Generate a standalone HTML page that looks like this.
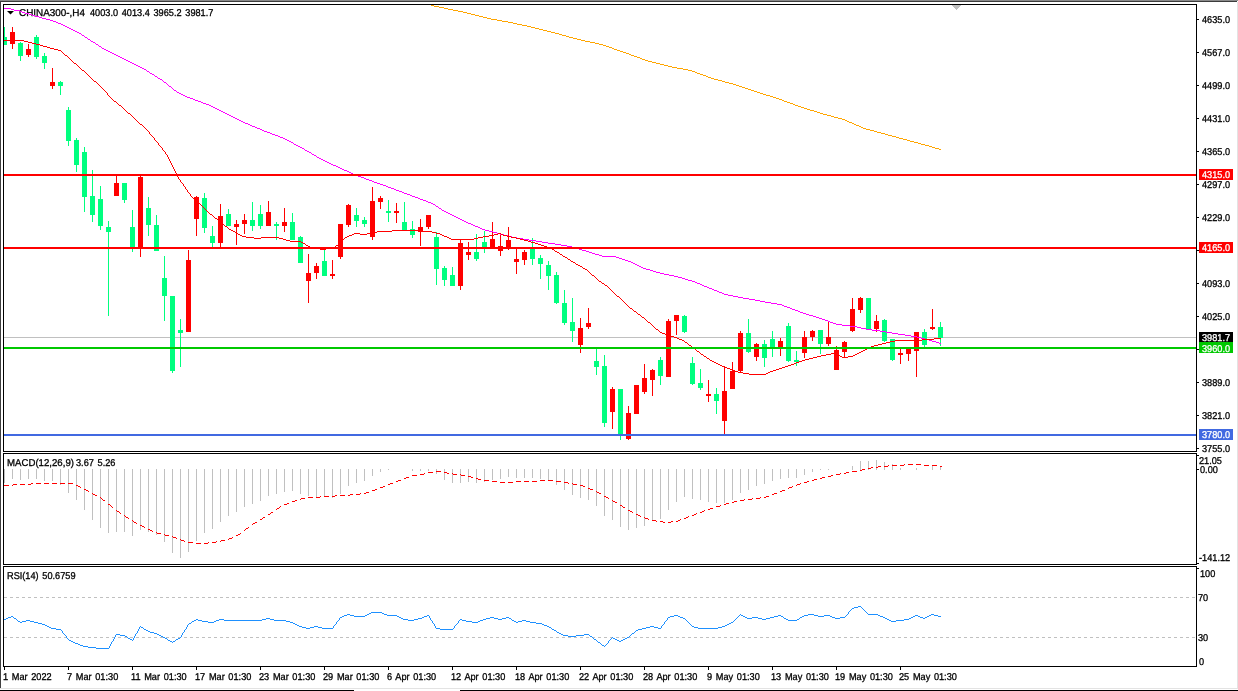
<!DOCTYPE html>
<html><head><meta charset="utf-8">
<style>
html,body{margin:0;padding:0;background:#fff;}
body{width:1238px;height:691px;overflow:hidden;position:relative;}
svg{position:absolute;left:0;top:0;display:block;will-change:transform;} path{shape-rendering:crispEdges;}
text{text-rendering:geometricPrecision;font-family:"Liberation Sans",sans-serif;font-size:9.9px;fill:#000;stroke:#000;stroke-width:0.3px;word-spacing:1.2px;}
</style></head><body>
<svg width="1238" height="691" viewBox="0 0 1238 691">
<rect x="0" y="0" width="1238" height="691" fill="#FFFFFF"/>
<g shape-rendering="crispEdges">
<rect x="0" y="0" width="1238" height="1" fill="#8A8A8A"/>
<rect x="0" y="1" width="1237" height="1" fill="#3C3C3C"/>
<rect x="0" y="1" width="1" height="687" fill="#404040"/>
<rect x="1237" y="2" width="1" height="687" fill="#E3E3E3"/>
<rect x="0" y="688" width="1238" height="1" fill="#E3E3E3"/>
<rect x="0" y="690" width="354" height="1" fill="#000"/>
<rect x="460" y="690" width="778" height="1" fill="#000"/>
<!-- frames -->
<rect x="3.5" y="4.5" width="1193" height="447" fill="none" stroke="#000" stroke-width="1"/>
<rect x="3.5" y="453.5" width="1193" height="111" fill="none" stroke="#000" stroke-width="1"/>
<rect x="3.5" y="566.5" width="1193" height="100" fill="none" stroke="#000" stroke-width="1"/>
</g>
<g shape-rendering="crispEdges">
<polygon points="951.5,5 961.5,5 956.5,10.5" fill="#C0C0C0"/>
</g>
<svg x="4" y="5" width="1192" height="446" viewBox="4 5 1192 446" overflow="hidden">
<g shape-rendering="crispEdges">
<rect x="4" y="337" width="1192" height="1" fill="#C0C0C0"/>
<rect x="4" y="27" width="1" height="18" fill="#00FF7F"/><rect x="2" y="37" width="5" height="8" fill="#00FF7F"/><rect x="12" y="27" width="1" height="22" fill="#FF0000"/><rect x="10" y="32" width="5" height="12" fill="#FF0000"/><rect x="20" y="42" width="1" height="19" fill="#00FF7F"/><rect x="18" y="43" width="5" height="13" fill="#00FF7F"/><rect x="28" y="44" width="1" height="13" fill="#FF0000"/><rect x="26" y="49" width="5" height="6" fill="#FF0000"/><rect x="36" y="35" width="1" height="24" fill="#00FF7F"/><rect x="34" y="37" width="5" height="20" fill="#00FF7F"/><rect x="44" y="53" width="1" height="16" fill="#00FF7F"/><rect x="42" y="56" width="5" height="7" fill="#00FF7F"/><rect x="52" y="68" width="1" height="21" fill="#FF0000"/><rect x="50" y="82" width="5" height="4" fill="#FF0000"/><rect x="60" y="81" width="1" height="14" fill="#00FF7F"/><rect x="58" y="82" width="5" height="4" fill="#00FF7F"/><rect x="68" y="107" width="1" height="39" fill="#00FF7F"/><rect x="66" y="110" width="5" height="31" fill="#00FF7F"/><rect x="76" y="138" width="1" height="34" fill="#00FF7F"/><rect x="74" y="140" width="5" height="25" fill="#00FF7F"/><rect x="84" y="147" width="1" height="65" fill="#00FF7F"/><rect x="82" y="152" width="5" height="45" fill="#00FF7F"/><rect x="92" y="170" width="1" height="52" fill="#00FF7F"/><rect x="90" y="196" width="5" height="19" fill="#00FF7F"/><rect x="100" y="186" width="1" height="44" fill="#00FF7F"/><rect x="98" y="199" width="5" height="27" fill="#00FF7F"/><rect x="108" y="221" width="1" height="95" fill="#00FF7F"/><rect x="106" y="227" width="5" height="5" fill="#00FF7F"/><rect x="116" y="175" width="1" height="21" fill="#FF0000"/><rect x="114" y="183" width="5" height="13" fill="#FF0000"/><rect x="124" y="183" width="1" height="20" fill="#00FF7F"/><rect x="122" y="183" width="5" height="17" fill="#00FF7F"/><rect x="132" y="210" width="1" height="42" fill="#00FF7F"/><rect x="130" y="227" width="5" height="20" fill="#00FF7F"/><rect x="140" y="175" width="1" height="82" fill="#FF0000"/><rect x="138" y="177" width="5" height="70" fill="#FF0000"/><rect x="148" y="197" width="1" height="39" fill="#00FF7F"/><rect x="146" y="208" width="5" height="17" fill="#00FF7F"/><rect x="156" y="215" width="1" height="36" fill="#00FF7F"/><rect x="154" y="225" width="5" height="26" fill="#00FF7F"/><rect x="164" y="256" width="1" height="65" fill="#00FF7F"/><rect x="162" y="278" width="5" height="18" fill="#00FF7F"/><rect x="172" y="296" width="1" height="77" fill="#00FF7F"/><rect x="170" y="296" width="5" height="75" fill="#00FF7F"/><rect x="180" y="319" width="1" height="48" fill="#00FF7F"/><rect x="178" y="330" width="5" height="3" fill="#00FF7F"/><rect x="188" y="250" width="1" height="82" fill="#FF0000"/><rect x="186" y="260" width="5" height="72" fill="#FF0000"/><rect x="196" y="196" width="1" height="40" fill="#FF0000"/><rect x="194" y="197" width="5" height="22" fill="#FF0000"/><rect x="204" y="193" width="1" height="40" fill="#00FF7F"/><rect x="202" y="198" width="5" height="30" fill="#00FF7F"/><rect x="212" y="226" width="1" height="21" fill="#00FF7F"/><rect x="210" y="236" width="5" height="7" fill="#00FF7F"/><rect x="220" y="204" width="1" height="43" fill="#FF0000"/><rect x="218" y="216" width="5" height="27" fill="#FF0000"/><rect x="228" y="209" width="1" height="17" fill="#00FF7F"/><rect x="226" y="214" width="5" height="12" fill="#00FF7F"/><rect x="236" y="220" width="1" height="25" fill="#FF0000"/><rect x="234" y="224" width="5" height="3" fill="#FF0000"/><rect x="244" y="214" width="1" height="20" fill="#FF0000"/><rect x="242" y="220" width="5" height="4" fill="#FF0000"/><rect x="252" y="202" width="1" height="29" fill="#00FF7F"/><rect x="250" y="220" width="5" height="6" fill="#00FF7F"/><rect x="260" y="205" width="1" height="24" fill="#00FF7F"/><rect x="258" y="214" width="5" height="12" fill="#00FF7F"/><rect x="268" y="201" width="1" height="25" fill="#FF0000"/><rect x="266" y="212" width="5" height="14" fill="#FF0000"/><rect x="276" y="222" width="1" height="18" fill="#00FF7F"/><rect x="274" y="224" width="5" height="2" fill="#00FF7F"/><rect x="284" y="208" width="1" height="24" fill="#FF0000"/><rect x="282" y="222" width="5" height="4" fill="#FF0000"/><rect x="292" y="213" width="1" height="27" fill="#00FF7F"/><rect x="290" y="222" width="5" height="18" fill="#00FF7F"/><rect x="300" y="236" width="1" height="27" fill="#00FF7F"/><rect x="298" y="237" width="5" height="26" fill="#00FF7F"/><rect x="308" y="254" width="1" height="49" fill="#FF0000"/><rect x="306" y="273" width="5" height="8" fill="#FF0000"/><rect x="316" y="263" width="1" height="16" fill="#FF0000"/><rect x="314" y="266" width="5" height="7" fill="#FF0000"/><rect x="324" y="250" width="1" height="26" fill="#00FF7F"/><rect x="322" y="261" width="5" height="15" fill="#00FF7F"/><rect x="332" y="260" width="1" height="19" fill="#FF0000"/><rect x="330" y="274" width="5" height="2" fill="#FF0000"/><rect x="340" y="224" width="1" height="35" fill="#FF0000"/><rect x="338" y="224" width="5" height="33" fill="#FF0000"/><rect x="348" y="204" width="1" height="23" fill="#FF0000"/><rect x="346" y="205" width="5" height="20" fill="#FF0000"/><rect x="356" y="208" width="1" height="19" fill="#00FF7F"/><rect x="354" y="215" width="5" height="6" fill="#00FF7F"/><rect x="364" y="217" width="1" height="10" fill="#00FF7F"/><rect x="362" y="220" width="5" height="4" fill="#00FF7F"/><rect x="372" y="187" width="1" height="53" fill="#FF0000"/><rect x="370" y="201" width="5" height="36" fill="#FF0000"/><rect x="380" y="196" width="1" height="13" fill="#FF0000"/><rect x="378" y="198" width="5" height="4" fill="#FF0000"/><rect x="388" y="200" width="1" height="22" fill="#00FF7F"/><rect x="386" y="211" width="5" height="2" fill="#00FF7F"/><rect x="396" y="203" width="1" height="20" fill="#FF0000"/><rect x="394" y="211" width="5" height="2" fill="#FF0000"/><rect x="404" y="202" width="1" height="28" fill="#00FF7F"/><rect x="402" y="222" width="5" height="8" fill="#00FF7F"/><rect x="412" y="221" width="1" height="17" fill="#00FF7F"/><rect x="410" y="229" width="5" height="6" fill="#00FF7F"/><rect x="420" y="219" width="1" height="27" fill="#FF0000"/><rect x="418" y="227" width="5" height="4" fill="#FF0000"/><rect x="428" y="215" width="1" height="14" fill="#FF0000"/><rect x="426" y="215" width="5" height="12" fill="#FF0000"/><rect x="436" y="232" width="1" height="53" fill="#00FF7F"/><rect x="434" y="237" width="5" height="32" fill="#00FF7F"/><rect x="444" y="266" width="1" height="20" fill="#00FF7F"/><rect x="442" y="268" width="5" height="12" fill="#00FF7F"/><rect x="452" y="267" width="1" height="19" fill="#00FF7F"/><rect x="450" y="275" width="5" height="11" fill="#00FF7F"/><rect x="460" y="240" width="1" height="50" fill="#FF0000"/><rect x="458" y="243" width="5" height="43" fill="#FF0000"/><rect x="468" y="242" width="1" height="18" fill="#FF0000"/><rect x="466" y="252" width="5" height="3" fill="#FF0000"/><rect x="476" y="234" width="1" height="27" fill="#00FF7F"/><rect x="474" y="252" width="5" height="7" fill="#00FF7F"/><rect x="484" y="231" width="1" height="22" fill="#00FF7F"/><rect x="482" y="242" width="5" height="5" fill="#00FF7F"/><rect x="492" y="222" width="1" height="25" fill="#FF0000"/><rect x="490" y="239" width="5" height="8" fill="#FF0000"/><rect x="500" y="235" width="1" height="21" fill="#FF0000"/><rect x="498" y="246" width="5" height="5" fill="#FF0000"/><rect x="508" y="227" width="1" height="23" fill="#FF0000"/><rect x="506" y="240" width="5" height="9" fill="#FF0000"/><rect x="516" y="249" width="1" height="25" fill="#FF0000"/><rect x="514" y="259" width="5" height="3" fill="#FF0000"/><rect x="524" y="250" width="1" height="15" fill="#FF0000"/><rect x="522" y="252" width="5" height="8" fill="#FF0000"/><rect x="532" y="238" width="1" height="27" fill="#00FF7F"/><rect x="530" y="249" width="5" height="10" fill="#00FF7F"/><rect x="540" y="255" width="1" height="24" fill="#00FF7F"/><rect x="538" y="258" width="5" height="6" fill="#00FF7F"/><rect x="548" y="261" width="1" height="29" fill="#00FF7F"/><rect x="546" y="265" width="5" height="11" fill="#00FF7F"/><rect x="556" y="272" width="1" height="32" fill="#00FF7F"/><rect x="554" y="275" width="5" height="28" fill="#00FF7F"/><rect x="564" y="290" width="1" height="35" fill="#00FF7F"/><rect x="562" y="303" width="5" height="20" fill="#00FF7F"/><rect x="572" y="298" width="1" height="44" fill="#00FF7F"/><rect x="570" y="322" width="5" height="9" fill="#00FF7F"/><rect x="580" y="318" width="1" height="35" fill="#FF0000"/><rect x="578" y="328" width="5" height="17" fill="#FF0000"/><rect x="588" y="308" width="1" height="21" fill="#FF0000"/><rect x="586" y="323" width="5" height="4" fill="#FF0000"/><rect x="596" y="349" width="1" height="26" fill="#00FF7F"/><rect x="594" y="361" width="5" height="6" fill="#00FF7F"/><rect x="604" y="355" width="1" height="72" fill="#00FF7F"/><rect x="602" y="366" width="5" height="57" fill="#00FF7F"/><rect x="612" y="387" width="1" height="42" fill="#FF0000"/><rect x="610" y="389" width="5" height="23" fill="#FF0000"/><rect x="620" y="389" width="1" height="51" fill="#00FF7F"/><rect x="618" y="389" width="5" height="45" fill="#00FF7F"/><rect x="628" y="406" width="1" height="34" fill="#FF0000"/><rect x="626" y="413" width="5" height="26" fill="#FF0000"/><rect x="636" y="385" width="1" height="29" fill="#FF0000"/><rect x="634" y="385" width="5" height="29" fill="#FF0000"/><rect x="644" y="364" width="1" height="30" fill="#FF0000"/><rect x="642" y="378" width="5" height="14" fill="#FF0000"/><rect x="652" y="369" width="1" height="27" fill="#FF0000"/><rect x="650" y="370" width="5" height="10" fill="#FF0000"/><rect x="660" y="357" width="1" height="28" fill="#00FF7F"/><rect x="658" y="360" width="5" height="16" fill="#00FF7F"/><rect x="668" y="319" width="1" height="58" fill="#FF0000"/><rect x="666" y="321" width="5" height="56" fill="#FF0000"/><rect x="676" y="315" width="1" height="20" fill="#FF0000"/><rect x="674" y="315" width="5" height="6" fill="#FF0000"/><rect x="684" y="315" width="1" height="18" fill="#00FF7F"/><rect x="682" y="316" width="5" height="16" fill="#00FF7F"/><rect x="692" y="357" width="1" height="28" fill="#00FF7F"/><rect x="690" y="363" width="5" height="21" fill="#00FF7F"/><rect x="700" y="369" width="1" height="21" fill="#00FF7F"/><rect x="698" y="383" width="5" height="5" fill="#00FF7F"/><rect x="708" y="380" width="1" height="22" fill="#FF0000"/><rect x="706" y="394" width="5" height="2" fill="#FF0000"/><rect x="716" y="388" width="1" height="26" fill="#00FF7F"/><rect x="714" y="394" width="5" height="7" fill="#00FF7F"/><rect x="724" y="366" width="1" height="68" fill="#FF0000"/><rect x="722" y="391" width="5" height="30" fill="#FF0000"/><rect x="732" y="362" width="1" height="27" fill="#FF0000"/><rect x="730" y="371" width="5" height="18" fill="#FF0000"/><rect x="740" y="331" width="1" height="41" fill="#FF0000"/><rect x="738" y="333" width="5" height="38" fill="#FF0000"/><rect x="748" y="319" width="1" height="34" fill="#00FF7F"/><rect x="746" y="333" width="5" height="19" fill="#00FF7F"/><rect x="756" y="343" width="1" height="18" fill="#FF0000"/><rect x="754" y="344" width="5" height="13" fill="#FF0000"/><rect x="764" y="340" width="1" height="27" fill="#00FF7F"/><rect x="762" y="344" width="5" height="14" fill="#00FF7F"/><rect x="772" y="331" width="1" height="26" fill="#00FF7F"/><rect x="770" y="339" width="5" height="8" fill="#00FF7F"/><rect x="780" y="338" width="1" height="18" fill="#FF0000"/><rect x="778" y="341" width="5" height="6" fill="#FF0000"/><rect x="788" y="323" width="1" height="39" fill="#00FF7F"/><rect x="786" y="326" width="5" height="35" fill="#00FF7F"/><rect x="796" y="351" width="1" height="15" fill="#00FF7F"/><rect x="794" y="360" width="5" height="2" fill="#00FF7F"/><rect x="804" y="331" width="1" height="27" fill="#FF0000"/><rect x="802" y="337" width="5" height="16" fill="#FF0000"/><rect x="812" y="330" width="1" height="11" fill="#FF0000"/><rect x="810" y="331" width="5" height="6" fill="#FF0000"/><rect x="820" y="330" width="1" height="24" fill="#00FF7F"/><rect x="818" y="330" width="5" height="14" fill="#00FF7F"/><rect x="828" y="321" width="1" height="25" fill="#FF0000"/><rect x="826" y="337" width="5" height="7" fill="#FF0000"/><rect x="836" y="346" width="1" height="24" fill="#FF0000"/><rect x="834" y="350" width="5" height="20" fill="#FF0000"/><rect x="844" y="341" width="1" height="17" fill="#FF0000"/><rect x="842" y="342" width="5" height="10" fill="#FF0000"/><rect x="852" y="298" width="1" height="34" fill="#FF0000"/><rect x="850" y="309" width="5" height="22" fill="#FF0000"/><rect x="860" y="297" width="1" height="16" fill="#FF0000"/><rect x="858" y="298" width="5" height="12" fill="#FF0000"/><rect x="868" y="298" width="1" height="31" fill="#00FF7F"/><rect x="866" y="298" width="5" height="31" fill="#00FF7F"/><rect x="876" y="315" width="1" height="17" fill="#FF0000"/><rect x="874" y="321" width="5" height="8" fill="#FF0000"/><rect x="884" y="319" width="1" height="23" fill="#00FF7F"/><rect x="882" y="320" width="5" height="21" fill="#00FF7F"/><rect x="892" y="339" width="1" height="22" fill="#00FF7F"/><rect x="890" y="339" width="5" height="21" fill="#00FF7F"/><rect x="900" y="349" width="1" height="15" fill="#FF0000"/><rect x="898" y="353" width="5" height="2" fill="#FF0000"/><rect x="908" y="349" width="1" height="12" fill="#FF0000"/><rect x="906" y="349" width="5" height="5" fill="#FF0000"/><rect x="916" y="332" width="1" height="45" fill="#FF0000"/><rect x="914" y="332" width="5" height="19" fill="#FF0000"/><rect x="924" y="329" width="1" height="18" fill="#00FF7F"/><rect x="922" y="332" width="5" height="13" fill="#00FF7F"/><rect x="932" y="309" width="1" height="21" fill="#FF0000"/><rect x="930" y="327" width="5" height="2" fill="#FF0000"/><rect x="940" y="322" width="1" height="24" fill="#00FF7F"/><rect x="938" y="327" width="5" height="11" fill="#00FF7F"/>
</g>
<text transform="translate(19,16) scale(0.93,1)" textLength="71" lengthAdjust="spacingAndGlyphs">CHINA300-,H4</text><text transform="translate(90,16) scale(0.93,1)">4003.0 4013.4 3965.2 3981.7</text>
<path d="M431 5h3v1h-3zM434 6h5v1h-5zM439 7h5v1h-5zM444 8h4v1h-4zM448 9h5v1h-5zM453 10h5v1h-5zM458 11h5v1h-5zM463 12h4v1h-4zM467 13h4v1h-4zM471 14h4v1h-4zM475 15h4v1h-4zM479 16h4v1h-4zM483 17h4v1h-4zM487 18h4v1h-4zM491 19h6v1h-6zM497 20h5v1h-5zM502 21h6v1h-6zM508 22h5v1h-5zM513 23h4v1h-4zM517 24h5v1h-5zM522 25h5v1h-5zM527 26h4v1h-4zM531 27h4v1h-4zM535 28h4v1h-4zM539 29h4v1h-4zM543 30h4v1h-4zM547 31h4v1h-4zM551 32h4v1h-4zM555 33h4v1h-4zM559 34h3v1h-3zM562 35h4v1h-4zM566 36h3v1h-3zM569 37h4v1h-4zM573 38h4v1h-4zM577 39h4v1h-4zM581 40h4v1h-4zM585 41h5v1h-5zM590 42h5v1h-5zM595 43h4v1h-4zM599 44h4v1h-4zM603 45h3v1h-3zM606 46h3v1h-3zM609 47h3v1h-3zM612 48h2v1h-2zM614 49h3v1h-3zM617 50h3v1h-3zM620 51h3v1h-3zM623 52h3v1h-3zM626 53h3v1h-3zM629 54h2v1h-2zM631 55h3v1h-3zM634 56h3v1h-3zM637 57h3v1h-3zM640 58h2v1h-2zM642 59h3v1h-3zM645 60h3v1h-3zM648 61h4v1h-4zM652 62h4v1h-4zM656 63h4v1h-4zM660 64h4v1h-4zM664 65h4v1h-4zM668 66h4v1h-4zM672 67h5v1h-5zM677 68h6v1h-6zM683 69h5v1h-5zM688 70h4v1h-4zM692 71h3v1h-3zM695 72h2v1h-2zM697 73h3v1h-3zM700 74h3v1h-3zM703 75h3v1h-3zM706 76h2v1h-2zM708 77h3v1h-3zM711 78h3v1h-3zM714 79h4v1h-4zM718 80h4v1h-4zM722 81h3v1h-3zM725 82h4v1h-4zM729 83h4v1h-4zM733 84h3v1h-3zM736 85h3v1h-3zM739 86h3v1h-3zM742 87h3v1h-3zM745 88h3v1h-3zM748 89h3v1h-3zM751 90h3v1h-3zM754 91h3v1h-3zM757 92h3v1h-3zM760 93h3v1h-3zM763 94h3v1h-3zM766 95h4v1h-4zM770 96h3v1h-3zM773 97h3v1h-3zM776 98h3v1h-3zM779 99h3v1h-3zM782 100h2v1h-2zM784 101h3v1h-3zM787 102h3v1h-3zM790 103h3v1h-3zM793 104h2v1h-2zM795 105h3v1h-3zM798 106h3v1h-3zM801 107h3v1h-3zM804 108h3v1h-3zM807 109h3v1h-3zM810 110h4v1h-4zM814 111h3v1h-3zM817 112h3v1h-3zM820 113h3v1h-3zM823 114h4v1h-4zM827 115h4v1h-4zM831 116h3v1h-3zM834 117h4v1h-4zM838 118h4v1h-4zM842 119h3v1h-3zM845 120h2v1h-2zM847 121h2v1h-2zM849 122h3v1h-3zM852 123h2v1h-2zM854 124h2v1h-2zM856 125h3v1h-3zM859 126h2v1h-2zM861 127h2v1h-2zM863 128h3v1h-3zM866 129h4v1h-4zM870 130h4v1h-4zM874 131h3v1h-3zM877 132h4v1h-4zM881 133h4v1h-4zM885 134h3v1h-3zM888 135h4v1h-4zM892 136h4v1h-4zM896 137h3v1h-3zM899 138h4v1h-4zM903 139h4v1h-4zM907 140h3v1h-3zM910 141h4v1h-4zM914 142h4v1h-4zM918 143h3v1h-3zM921 144h4v1h-4zM925 145h4v1h-4zM929 146h3v1h-3zM932 147h3v1h-3zM935 148h4v1h-4zM939 149h2v1h-2z" fill="#FFA500"/>
<path d="M4 8h7v1h-7zM11 9h3v1h-3zM14 10h6v1h-6zM20 11h2v1h-2zM22 12h3v1h-3zM25 13h4v1h-4zM29 14h3v1h-3zM32 15h3v1h-3zM35 16h4v1h-4zM39 17h3v1h-3zM42 18h4v1h-4zM46 19h4v1h-4zM50 20h3v1h-3zM53 21h3v1h-3zM56 22h2v1h-2zM58 23h3v1h-3zM61 24h2v1h-2zM63 25h2v1h-2zM65 26h2v1h-2zM67 27h2v1h-2zM69 28h2v1h-2zM71 29h2v1h-2zM73 30h2v1h-2zM75 31h2v1h-2zM77 32h2v1h-2zM79 33h2v1h-2zM81 34h1v1h-1zM82 35h2v1h-2zM84 36h1v1h-1zM85 37h2v1h-2zM87 38h1v1h-1zM88 39h2v1h-2zM90 40h1v1h-1zM91 41h2v1h-2zM93 42h2v1h-2zM95 43h1v1h-1zM96 44h2v1h-2zM98 45h1v1h-1zM99 46h2v1h-2zM101 47h1v1h-1zM102 48h2v1h-2zM104 49h2v1h-2zM106 50h2v1h-2zM108 51h2v1h-2zM110 52h2v1h-2zM112 53h2v1h-2zM114 54h2v1h-2zM116 55h2v1h-2zM118 56h2v1h-2zM120 57h2v1h-2zM122 58h2v1h-2zM124 59h2v1h-2zM126 60h2v1h-2zM128 61h2v1h-2zM130 62h2v1h-2zM132 63h2v1h-2zM134 64h2v1h-2zM136 65h2v1h-2zM138 66h2v1h-2zM140 67h2v1h-2zM142 68h2v1h-2zM144 69h2v1h-2zM146 70h1v1h-1zM147 71h2v1h-2zM149 72h1v1h-1zM150 73h2v1h-2zM152 74h2v1h-2zM154 75h1v1h-1zM155 76h2v1h-2zM157 77h1v1h-1zM158 78h2v1h-2zM160 79h2v1h-2zM162 80h1v1h-1zM163 81h1v1h-1zM164 82h2v1h-2zM166 83h1v1h-1zM167 84h1v1h-1zM168 85h1v1h-1zM169 86h2v1h-2zM171 87h1v1h-1zM172 88h1v1h-1zM173 89h1v1h-1zM174 90h2v1h-2zM176 91h1v1h-1zM177 92h2v1h-2zM179 93h2v1h-2zM181 94h2v1h-2zM183 95h2v1h-2zM185 96h2v1h-2zM187 97h3v1h-3zM190 98h3v1h-3zM193 99h2v1h-2zM195 100h3v1h-3zM198 101h3v1h-3zM201 102h2v1h-2zM203 103h3v1h-3zM206 104h3v1h-3zM209 105h2v1h-2zM211 106h2v1h-2zM213 107h2v1h-2zM215 108h2v1h-2zM217 109h2v1h-2zM219 110h2v1h-2zM221 111h2v1h-2zM223 112h2v1h-2zM225 113h2v1h-2zM227 114h2v1h-2zM229 115h2v1h-2zM231 116h2v1h-2zM233 117h2v1h-2zM235 118h2v1h-2zM237 119h2v1h-2zM239 120h2v1h-2zM241 121h2v1h-2zM243 122h2v1h-2zM245 123h3v1h-3zM248 124h2v1h-2zM250 125h2v1h-2zM252 126h3v1h-3zM255 127h2v1h-2zM257 128h3v1h-3zM260 129h2v1h-2zM262 130h2v1h-2zM264 131h3v1h-3zM267 132h3v1h-3zM270 133h2v1h-2zM272 134h3v1h-3zM275 135h3v1h-3zM278 136h2v1h-2zM280 137h3v1h-3zM283 138h2v1h-2zM285 139h2v1h-2zM287 140h2v1h-2zM289 141h2v1h-2zM291 142h2v1h-2zM293 143h1v1h-1zM294 144h2v1h-2zM296 145h2v1h-2zM298 146h2v1h-2zM300 147h2v1h-2zM302 148h2v1h-2zM304 149h1v1h-1zM305 150h2v1h-2zM307 151h2v1h-2zM309 152h2v1h-2zM311 153h1v1h-1zM312 154h2v1h-2zM314 155h2v1h-2zM316 156h1v1h-1zM317 157h2v1h-2zM319 158h2v1h-2zM321 159h2v1h-2zM323 160h2v1h-2zM325 161h2v1h-2zM327 162h2v1h-2zM329 163h2v1h-2zM331 164h2v1h-2zM333 165h3v1h-3zM336 166h2v1h-2zM338 167h2v1h-2zM340 168h2v1h-2zM342 169h2v1h-2zM344 170h3v1h-3zM347 171h2v1h-2zM349 172h2v1h-2zM351 173h2v1h-2zM353 174h3v1h-3zM356 175h2v1h-2zM358 176h3v1h-3zM361 177h3v1h-3zM364 178h2v1h-2zM366 179h3v1h-3zM369 180h3v1h-3zM372 181h2v1h-2zM374 182h3v1h-3zM377 183h3v1h-3zM380 184h3v1h-3zM383 185h3v1h-3zM386 186h2v1h-2zM388 187h3v1h-3zM391 188h3v1h-3zM394 189h2v1h-2zM396 190h3v1h-3zM399 191h3v1h-3zM402 192h2v1h-2zM404 193h3v1h-3zM407 194h3v1h-3zM410 195h2v1h-2zM412 196h3v1h-3zM415 197h3v1h-3zM418 198h2v1h-2zM420 199h3v1h-3zM423 200h3v1h-3zM426 201h2v1h-2zM428 202h3v1h-3zM431 203h2v1h-2zM433 204h2v1h-2zM435 205h1v1h-1zM436 206h2v1h-2zM438 207h1v1h-1zM439 208h2v1h-2zM441 209h1v1h-1zM442 210h2v1h-2zM444 211h2v1h-2zM446 212h2v1h-2zM448 213h2v1h-2zM450 214h2v1h-2zM452 215h2v1h-2zM454 216h2v1h-2zM456 217h2v1h-2zM458 218h2v1h-2zM460 219h2v1h-2zM462 220h2v1h-2zM464 221h2v1h-2zM466 222h2v1h-2zM468 223h3v1h-3zM471 224h2v1h-2zM473 225h2v1h-2zM475 226h3v1h-3zM478 227h2v1h-2zM480 228h2v1h-2zM482 229h3v1h-3zM485 230h4v1h-4zM489 231h4v1h-4zM493 232h4v1h-4zM497 233h3v1h-3zM500 234h4v1h-4zM504 235h4v1h-4zM508 236h4v1h-4zM512 237h5v1h-5zM517 238h6v1h-6zM523 239h6v1h-6zM529 240h7v1h-7zM536 241h6v1h-6zM542 242h6v1h-6zM548 243h7v1h-7zM555 244h6v1h-6zM561 245h6v1h-6zM567 246h5v1h-5zM572 247h4v1h-4zM576 248h3v1h-3zM579 249h3v1h-3zM582 250h4v1h-4zM586 251h3v1h-3zM589 252h3v1h-3zM592 253h3v1h-3zM595 254h4v1h-4zM599 255h3v1h-3zM602 256h14v1h-14zM616 257h3v1h-3zM619 258h3v1h-3zM622 259h3v1h-3zM625 260h3v1h-3zM628 261h3v1h-3zM631 262h2v1h-2zM633 263h2v1h-2zM635 264h2v1h-2zM637 265h2v1h-2zM639 266h2v1h-2zM641 267h2v1h-2zM643 268h3v1h-3zM646 269h4v1h-4zM650 270h3v1h-3zM653 271h3v1h-3zM656 272h4v1h-4zM660 273h4v1h-4zM664 274h5v1h-5zM669 275h5v1h-5zM674 276h4v1h-4zM678 277h4v1h-4zM682 278h3v1h-3zM685 279h3v1h-3zM688 280h4v1h-4zM692 281h3v1h-3zM695 282h2v1h-2zM697 283h3v1h-3zM700 284h2v1h-2zM702 285h2v1h-2zM704 286h3v1h-3zM707 287h2v1h-2zM709 288h3v1h-3zM712 289h2v1h-2zM714 290h3v1h-3zM717 291h2v1h-2zM719 292h3v1h-3zM722 293h2v1h-2zM724 294h4v1h-4zM728 295h5v1h-5zM733 296h5v1h-5zM738 297h5v1h-5zM743 298h6v1h-6zM749 299h6v1h-6zM755 300h5v1h-5zM760 301h5v1h-5zM765 302h6v1h-6zM771 303h6v1h-6zM777 304h5v1h-5zM782 305h2v1h-2zM784 306h3v1h-3zM787 307h3v1h-3zM790 308h2v1h-2zM792 309h3v1h-3zM795 310h3v1h-3zM798 311h2v1h-2zM800 312h3v1h-3zM803 313h3v1h-3zM806 314h3v1h-3zM809 315h4v1h-4zM813 316h3v1h-3zM816 317h3v1h-3zM819 318h3v1h-3zM822 319h3v1h-3zM825 320h3v1h-3zM828 321h2v1h-2zM830 322h3v1h-3zM833 323h3v1h-3zM836 324h6v1h-6zM842 325h8v1h-8zM850 326h7v1h-7zM857 327h4v1h-4zM861 328h5v1h-5zM866 329h6v1h-6zM872 330h8v1h-8zM880 331h6v1h-6zM886 332h6v1h-6zM892 333h6v1h-6zM898 334h7v1h-7zM905 335h6v1h-6zM911 336h6v1h-6zM917 337h4v1h-4zM921 338h4v1h-4zM925 339h4v1h-4zM929 340h3v1h-3zM932 341h4v1h-4zM936 342h3v1h-3zM939 343h2v1h-2z" fill="#FF00FF"/>
<path d="M4 40h20v1h-20zM24 41h4v1h-4zM28 42h4v1h-4zM32 43h4v1h-4zM36 44h4v1h-4zM40 45h3v1h-3zM43 46h4v1h-4zM47 47h3v1h-3zM50 48h4v1h-4zM54 49h4v1h-4zM58 50h3v1h-3zM61 51h1v1h-1zM62 52h1v1h-1zM63 53h1v1h-1zM64 54h1v1h-1zM65 55h2v1h-2zM67 56h1v1h-1zM68 57h1v1h-1zM69 58h1v1h-1zM70 59h1v1h-1zM71 60h1v1h-1zM72 61h1v1h-1zM73 62h1v1h-1zM74 63h2v1h-2zM76 64h1v1h-1zM77 65h1v1h-1zM78 66h1v1h-1zM79 67h1v1h-1zM80 68h1v1h-1zM81 69h1v1h-1zM82 70h2v1h-2zM84 71h1v1h-1zM85 72h1v1h-1zM86 73h1v1h-1zM87 74h1v1h-1zM88 75h1v1h-1zM89 76h1v1h-1zM90 77h1v1h-1zM91 78h1v1h-1zM92 79h1v1h-1zM93 80h1v1h-1zM94 81h2v1h-2zM96 82h1v1h-1zM97 83h1v1h-1zM98 84h1v1h-1zM99 85h1v1h-1zM100 86h1v1h-1zM101 87h1v1h-1zM102 88h1v1h-1zM103 89h1v1h-1zM104 90h1v1h-1zM105 91h1v1h-1zM106 92h1v1h-1zM107 93h1v1h-1zM107 94h1v1h-1zM108 95h1v1h-1zM109 96h1v1h-1zM110 97h1v1h-1zM111 98h1v1h-1zM112 99h1v1h-1zM113 100h1v1h-1zM114 101h2v1h-2zM116 102h1v1h-1zM117 103h1v1h-1zM118 104h1v1h-1zM119 105h2v1h-2zM121 106h1v1h-1zM122 107h1v1h-1zM123 108h1v1h-1zM124 109h1v1h-1zM125 110h1v1h-1zM126 111h1v1h-1zM127 112h1v1h-1zM128 113h2v1h-2zM130 114h1v1h-1zM131 115h1v1h-1zM132 116h1v1h-1zM133 117h1v1h-1zM134 118h1v1h-1zM135 119h1v1h-1zM136 120h1v1h-1zM137 121h1v1h-1zM138 122h1v1h-1zM139 123h1v1h-1zM140 124h2v1h-2zM142 125h1v1h-1zM143 126h1v1h-1zM144 127h1v1h-1zM145 128h1v1h-1zM146 129h1v1h-1zM147 130h1v1h-1zM148 131h1v1h-1zM149 132h1v1h-1zM149 133h1v1h-1zM150 134h1v1h-1zM151 135h1v1h-1zM152 136h1v1h-1zM153 137h1v1h-1zM154 138h1v1h-1zM154 139h1v1h-1zM155 140h1v1h-1zM156 141h1v1h-1zM157 142h1v1h-1zM158 143h1v1h-1zM158 144h1v1h-1zM159 145h1v1h-1zM160 146h1v1h-1zM161 147h1v1h-1zM162 148h1v1h-1zM162 149h1v1h-1zM163 150h1v1h-1zM164 151h1v1h-1zM165 152h1v1h-1zM165 153h1v1h-1zM166 154h1v1h-1zM167 155h1v1h-1zM167 156h1v1h-1zM168 157h1v1h-1zM168 158h1v1h-1zM169 159h1v1h-1zM169 160h1v1h-1zM170 161h1v1h-1zM170 162h1v1h-1zM171 163h1v1h-1zM171 164h1v1h-1zM172 165h1v1h-1zM172 166h1v1h-1zM173 167h1v1h-1zM173 168h1v1h-1zM174 169h1v1h-1zM174 170h1v1h-1zM175 171h1v1h-1zM175 172h1v1h-1zM176 173h1v1h-1zM176 174h1v1h-1zM177 175h1v1h-1zM177 176h1v1h-1zM178 177h1v1h-1zM178 178h1v1h-1zM179 179h1v1h-1zM180 180h1v1h-1zM180 181h1v1h-1zM181 182h1v1h-1zM182 183h1v1h-1zM183 184h1v1h-1zM183 185h1v1h-1zM184 186h1v1h-1zM185 187h1v1h-1zM185 188h1v1h-1zM186 189h1v1h-1zM187 190h1v1h-1zM187 191h1v1h-1zM188 192h1v1h-1zM189 193h1v1h-1zM190 194h1v1h-1zM190 195h1v1h-1zM191 196h1v1h-1zM192 197h1v1h-1zM193 198h1v1h-1zM194 199h1v1h-1zM195 200h2v1h-2zM197 201h1v1h-1zM198 202h1v1h-1zM199 203h1v1h-1zM200 204h1v1h-1zM201 205h1v1h-1zM202 206h1v1h-1zM203 207h1v1h-1zM204 208h1v1h-1zM205 209h1v1h-1zM206 210h1v1h-1zM207 211h1v1h-1zM208 212h1v1h-1zM209 213h1v1h-1zM210 214h2v1h-2zM212 215h1v1h-1zM213 216h1v1h-1zM214 217h1v1h-1zM215 218h2v1h-2zM217 219h1v1h-1zM218 220h1v1h-1zM219 221h1v1h-1zM220 222h2v1h-2zM222 223h1v1h-1zM223 224h1v1h-1zM224 225h1v1h-1zM225 226h2v1h-2zM227 227h1v1h-1zM228 228h1v1h-1zM229 229h2v1h-2zM231 230h2v1h-2zM392 230h26v1h-26zM233 231h2v1h-2zM377 231h15v1h-15zM418 231h14v1h-14zM235 232h1v1h-1zM371 232h6v1h-6zM432 232h4v1h-4zM236 233h2v1h-2zM354 233h6v1h-6zM367 233h4v1h-4zM436 233h4v1h-4zM498 233h3v1h-3zM238 234h2v1h-2zM352 234h2v1h-2zM360 234h7v1h-7zM440 234h2v1h-2zM494 234h4v1h-4zM501 234h2v1h-2zM240 235h2v1h-2zM349 235h3v1h-3zM442 235h2v1h-2zM489 235h5v1h-5zM503 235h4v1h-4zM242 236h4v1h-4zM347 236h2v1h-2zM444 236h3v1h-3zM483 236h6v1h-6zM507 236h4v1h-4zM246 237h8v1h-8zM261 237h18v1h-18zM345 237h2v1h-2zM447 237h2v1h-2zM478 237h5v1h-5zM511 237h5v1h-5zM254 238h7v1h-7zM279 238h4v1h-4zM344 238h1v1h-1zM449 238h2v1h-2zM474 238h4v1h-4zM516 238h4v1h-4zM283 239h3v1h-3zM343 239h1v1h-1zM451 239h23v1h-23zM520 239h4v1h-4zM286 240h4v1h-4zM342 240h1v1h-1zM524 240h4v1h-4zM290 241h11v1h-11zM341 241h1v1h-1zM528 241h3v1h-3zM301 242h2v1h-2zM340 242h1v1h-1zM531 242h4v1h-4zM303 243h2v1h-2zM339 243h1v1h-1zM535 243h3v1h-3zM305 244h1v1h-1zM338 244h1v1h-1zM538 244h3v1h-3zM306 245h2v1h-2zM336 245h2v1h-2zM541 245h3v1h-3zM308 246h2v1h-2zM335 246h1v1h-1zM544 246h3v1h-3zM310 247h4v1h-4zM332 247h3v1h-3zM547 247h3v1h-3zM314 248h6v1h-6zM326 248h6v1h-6zM550 248h2v1h-2zM320 249h6v1h-6zM552 249h2v1h-2zM554 250h1v1h-1zM555 251h2v1h-2zM557 252h2v1h-2zM559 253h1v1h-1zM560 254h2v1h-2zM562 255h1v1h-1zM563 256h2v1h-2zM565 257h2v1h-2zM567 258h1v1h-1zM568 259h2v1h-2zM570 260h1v1h-1zM571 261h2v1h-2zM573 262h2v1h-2zM575 263h1v1h-1zM576 264h2v1h-2zM578 265h2v1h-2zM580 266h2v1h-2zM582 267h1v1h-1zM583 268h2v1h-2zM585 269h2v1h-2zM587 270h1v1h-1zM588 271h1v1h-1zM589 272h1v1h-1zM590 273h1v1h-1zM591 274h1v1h-1zM592 275h2v1h-2zM594 276h1v1h-1zM595 277h1v1h-1zM596 278h1v1h-1zM597 279h1v1h-1zM598 280h1v1h-1zM599 281h2v1h-2zM601 282h1v1h-1zM602 283h2v1h-2zM604 284h1v1h-1zM605 285h2v1h-2zM607 286h1v1h-1zM608 287h1v1h-1zM609 288h1v1h-1zM610 289h1v1h-1zM611 290h1v1h-1zM612 291h1v1h-1zM613 292h1v1h-1zM614 293h1v1h-1zM615 294h1v1h-1zM616 295h1v1h-1zM617 296h2v1h-2zM619 297h1v1h-1zM620 298h1v1h-1zM621 299h1v1h-1zM622 300h1v1h-1zM623 301h1v1h-1zM624 302h1v1h-1zM625 303h1v1h-1zM626 304h1v1h-1zM627 305h1v1h-1zM628 306h1v1h-1zM629 307h1v1h-1zM630 308h2v1h-2zM632 309h1v1h-1zM633 310h1v1h-1zM634 311h2v1h-2zM636 312h1v1h-1zM637 313h1v1h-1zM638 314h2v1h-2zM640 315h1v1h-1zM641 316h1v1h-1zM642 317h2v1h-2zM644 318h1v1h-1zM645 319h1v1h-1zM646 320h1v1h-1zM647 321h1v1h-1zM648 322h2v1h-2zM650 323h1v1h-1zM651 324h1v1h-1zM652 325h1v1h-1zM653 326h1v1h-1zM654 327h1v1h-1zM655 328h1v1h-1zM656 329h2v1h-2zM658 330h1v1h-1zM659 331h1v1h-1zM660 332h2v1h-2zM662 333h3v1h-3zM665 334h3v1h-3zM668 335h3v1h-3zM671 336h3v1h-3zM674 337h3v1h-3zM677 338h2v1h-2zM934 338h7v1h-7zM679 339h3v1h-3zM922 339h12v1h-12zM682 340h2v1h-2zM895 340h27v1h-27zM684 341h1v1h-1zM890 341h5v1h-5zM685 342h2v1h-2zM886 342h4v1h-4zM687 343h1v1h-1zM882 343h4v1h-4zM688 344h1v1h-1zM878 344h4v1h-4zM689 345h2v1h-2zM874 345h4v1h-4zM691 346h1v1h-1zM871 346h3v1h-3zM692 347h1v1h-1zM869 347h2v1h-2zM693 348h2v1h-2zM867 348h2v1h-2zM695 349h1v1h-1zM865 349h2v1h-2zM696 350h1v1h-1zM863 350h2v1h-2zM697 351h2v1h-2zM861 351h2v1h-2zM699 352h1v1h-1zM859 352h2v1h-2zM700 353h1v1h-1zM831 353h4v1h-4zM857 353h2v1h-2zM701 354h2v1h-2zM826 354h5v1h-5zM835 354h2v1h-2zM855 354h2v1h-2zM703 355h1v1h-1zM821 355h5v1h-5zM837 355h3v1h-3zM853 355h2v1h-2zM704 356h2v1h-2zM817 356h4v1h-4zM840 356h2v1h-2zM848 356h5v1h-5zM706 357h1v1h-1zM813 357h4v1h-4zM842 357h6v1h-6zM707 358h2v1h-2zM809 358h4v1h-4zM709 359h1v1h-1zM805 359h4v1h-4zM710 360h2v1h-2zM802 360h3v1h-3zM712 361h2v1h-2zM799 361h3v1h-3zM714 362h2v1h-2zM796 362h3v1h-3zM716 363h2v1h-2zM794 363h2v1h-2zM718 364h2v1h-2zM791 364h3v1h-3zM720 365h2v1h-2zM788 365h3v1h-3zM722 366h2v1h-2zM785 366h3v1h-3zM724 367h3v1h-3zM782 367h3v1h-3zM727 368h3v1h-3zM779 368h3v1h-3zM730 369h2v1h-2zM776 369h3v1h-3zM732 370h3v1h-3zM773 370h3v1h-3zM735 371h3v1h-3zM770 371h3v1h-3zM738 372h5v1h-5zM768 372h2v1h-2zM743 373h6v1h-6zM766 373h2v1h-2zM749 374h17v1h-17z" fill="#FF0000"/>
<g shape-rendering="crispEdges">
<rect x="4" y="174" width="1192" height="2" fill="#FF0000"/>
<rect x="4" y="247" width="1192" height="2" fill="#FF0000"/>
<rect x="4" y="347" width="1192" height="2" fill="#00C800"/>
<rect x="4" y="434" width="1192" height="2" fill="#4169E1"/>
</g>
</svg>
<svg x="4" y="454" width="1192" height="110" viewBox="4 454 1192 110" overflow="hidden">
<g shape-rendering="crispEdges">
<rect x="4" y="469" width="1" height="14" fill="#C0C0C0"/><rect x="12" y="469" width="1" height="10" fill="#C0C0C0"/><rect x="20" y="469" width="1" height="11" fill="#C0C0C0"/><rect x="28" y="469" width="1" height="10" fill="#C0C0C0"/><rect x="36" y="469" width="1" height="10" fill="#C0C0C0"/><rect x="44" y="469" width="1" height="12" fill="#C0C0C0"/><rect x="52" y="469" width="1" height="12" fill="#C0C0C0"/><rect x="60" y="469" width="1" height="16" fill="#C0C0C0"/><rect x="68" y="469" width="1" height="24" fill="#C0C0C0"/><rect x="76" y="469" width="1" height="31" fill="#C0C0C0"/><rect x="84" y="469" width="1" height="41" fill="#C0C0C0"/><rect x="92" y="469" width="1" height="51" fill="#C0C0C0"/><rect x="100" y="469" width="1" height="59" fill="#C0C0C0"/><rect x="108" y="469" width="1" height="64" fill="#C0C0C0"/><rect x="116" y="469" width="1" height="63" fill="#C0C0C0"/><rect x="124" y="469" width="1" height="63" fill="#C0C0C0"/><rect x="132" y="469" width="1" height="67" fill="#C0C0C0"/><rect x="140" y="469" width="1" height="61" fill="#C0C0C0"/><rect x="148" y="469" width="1" height="63" fill="#C0C0C0"/><rect x="156" y="469" width="1" height="66" fill="#C0C0C0"/><rect x="164" y="469" width="1" height="73" fill="#C0C0C0"/><rect x="172" y="469" width="1" height="84" fill="#C0C0C0"/><rect x="180" y="469" width="1" height="89" fill="#C0C0C0"/><rect x="188" y="469" width="1" height="83" fill="#C0C0C0"/><rect x="196" y="469" width="1" height="72" fill="#C0C0C0"/><rect x="204" y="469" width="1" height="64" fill="#C0C0C0"/><rect x="212" y="469" width="1" height="60" fill="#C0C0C0"/><rect x="220" y="469" width="1" height="53" fill="#C0C0C0"/><rect x="228" y="469" width="1" height="47" fill="#C0C0C0"/><rect x="236" y="469" width="1" height="43" fill="#C0C0C0"/><rect x="244" y="469" width="1" height="38" fill="#C0C0C0"/><rect x="252" y="469" width="1" height="35" fill="#C0C0C0"/><rect x="260" y="469" width="1" height="32" fill="#C0C0C0"/><rect x="268" y="469" width="1" height="27" fill="#C0C0C0"/><rect x="276" y="469" width="1" height="25" fill="#C0C0C0"/><rect x="284" y="469" width="1" height="23" fill="#C0C0C0"/><rect x="292" y="469" width="1" height="22" fill="#C0C0C0"/><rect x="300" y="469" width="1" height="25" fill="#C0C0C0"/><rect x="308" y="469" width="1" height="27" fill="#C0C0C0"/><rect x="316" y="469" width="1" height="28" fill="#C0C0C0"/><rect x="324" y="469" width="1" height="28" fill="#C0C0C0"/><rect x="332" y="469" width="1" height="29" fill="#C0C0C0"/><rect x="340" y="469" width="1" height="25" fill="#C0C0C0"/><rect x="348" y="469" width="1" height="17" fill="#C0C0C0"/><rect x="356" y="469" width="1" height="14" fill="#C0C0C0"/><rect x="364" y="469" width="1" height="12" fill="#C0C0C0"/><rect x="372" y="469" width="1" height="7" fill="#C0C0C0"/><rect x="380" y="469" width="1" height="3" fill="#C0C0C0"/><rect x="388" y="469" width="1" height="1" fill="#C0C0C0"/><rect x="412" y="469" width="1" height="2" fill="#C0C0C0"/><rect x="420" y="469" width="1" height="2" fill="#C0C0C0"/><rect x="428" y="469" width="1" height="2" fill="#C0C0C0"/><rect x="436" y="469" width="1" height="5" fill="#C0C0C0"/><rect x="444" y="469" width="1" height="11" fill="#C0C0C0"/><rect x="452" y="469" width="1" height="14" fill="#C0C0C0"/><rect x="460" y="469" width="1" height="14" fill="#C0C0C0"/><rect x="468" y="469" width="1" height="13" fill="#C0C0C0"/><rect x="476" y="469" width="1" height="14" fill="#C0C0C0"/><rect x="484" y="469" width="1" height="13" fill="#C0C0C0"/><rect x="492" y="469" width="1" height="11" fill="#C0C0C0"/><rect x="500" y="469" width="1" height="10" fill="#C0C0C0"/><rect x="508" y="469" width="1" height="8" fill="#C0C0C0"/><rect x="516" y="469" width="1" height="9" fill="#C0C0C0"/><rect x="524" y="469" width="1" height="9" fill="#C0C0C0"/><rect x="532" y="469" width="1" height="9" fill="#C0C0C0"/><rect x="540" y="469" width="1" height="10" fill="#C0C0C0"/><rect x="548" y="469" width="1" height="11" fill="#C0C0C0"/><rect x="556" y="469" width="1" height="16" fill="#C0C0C0"/><rect x="564" y="469" width="1" height="21" fill="#C0C0C0"/><rect x="572" y="469" width="1" height="26" fill="#C0C0C0"/><rect x="580" y="469" width="1" height="29" fill="#C0C0C0"/><rect x="588" y="469" width="1" height="31" fill="#C0C0C0"/><rect x="596" y="469" width="1" height="37" fill="#C0C0C0"/><rect x="604" y="469" width="1" height="47" fill="#C0C0C0"/><rect x="612" y="469" width="1" height="51" fill="#C0C0C0"/><rect x="620" y="469" width="1" height="58" fill="#C0C0C0"/><rect x="628" y="469" width="1" height="61" fill="#C0C0C0"/><rect x="636" y="469" width="1" height="59" fill="#C0C0C0"/><rect x="644" y="469" width="1" height="57" fill="#C0C0C0"/><rect x="652" y="469" width="1" height="52" fill="#C0C0C0"/><rect x="660" y="469" width="1" height="50" fill="#C0C0C0"/><rect x="668" y="469" width="1" height="41" fill="#C0C0C0"/><rect x="676" y="469" width="1" height="33" fill="#C0C0C0"/><rect x="684" y="469" width="1" height="28" fill="#C0C0C0"/><rect x="692" y="469" width="1" height="30" fill="#C0C0C0"/><rect x="700" y="469" width="1" height="31" fill="#C0C0C0"/><rect x="708" y="469" width="1" height="33" fill="#C0C0C0"/><rect x="716" y="469" width="1" height="34" fill="#C0C0C0"/><rect x="724" y="469" width="1" height="34" fill="#C0C0C0"/><rect x="732" y="469" width="1" height="31" fill="#C0C0C0"/><rect x="740" y="469" width="1" height="24" fill="#C0C0C0"/><rect x="748" y="469" width="1" height="21" fill="#C0C0C0"/><rect x="756" y="469" width="1" height="17" fill="#C0C0C0"/><rect x="764" y="469" width="1" height="15" fill="#C0C0C0"/><rect x="772" y="469" width="1" height="12" fill="#C0C0C0"/><rect x="780" y="469" width="1" height="10" fill="#C0C0C0"/><rect x="788" y="469" width="1" height="9" fill="#C0C0C0"/><rect x="796" y="469" width="1" height="9" fill="#C0C0C0"/><rect x="804" y="469" width="1" height="6" fill="#C0C0C0"/><rect x="812" y="469" width="1" height="3" fill="#C0C0C0"/><rect x="820" y="469" width="1" height="1" fill="#C0C0C0"/><rect x="828" y="469" width="1" height="1" fill="#C0C0C0"/><rect x="852" y="466" width="1" height="4" fill="#C0C0C0"/><rect x="860" y="461" width="1" height="9" fill="#C0C0C0"/><rect x="868" y="461" width="1" height="9" fill="#C0C0C0"/><rect x="876" y="460" width="1" height="10" fill="#C0C0C0"/><rect x="884" y="462" width="1" height="8" fill="#C0C0C0"/><rect x="892" y="464" width="1" height="6" fill="#C0C0C0"/><rect x="900" y="468" width="1" height="2" fill="#C0C0C0"/><rect x="916" y="468" width="1" height="2" fill="#C0C0C0"/><rect x="932" y="466" width="1" height="4" fill="#C0C0C0"/><rect x="940" y="466" width="1" height="4" fill="#C0C0C0"/>
</g>
<path d="M904 464h1v1h-1zM908 464h5v1h-5zM916 464h5v1h-5zM888 465h1v1h-1zM892 465h5v1h-5zM900 465h4v1h-4zM924 465h5v1h-5zM932 465h5v1h-5zM878 466h3v1h-3zM884 466h4v1h-4zM940 466h2v1h-2zM871 467h2v1h-2zM876 467h2v1h-2zM868 468h3v1h-3zM862 469h3v1h-3zM860 470h2v1h-2zM436 471h5v1h-5zM852 471h5v1h-5zM428 472h5v1h-5zM444 472h3v1h-3zM846 472h3v1h-3zM424 473h1v1h-1zM447 473h2v1h-2zM452 473h1v1h-1zM840 473h1v1h-1zM844 473h2v1h-2zM420 474h4v1h-4zM453 474h4v1h-4zM460 474h1v1h-1zM836 474h4v1h-4zM412 475h5v1h-5zM461 475h4v1h-4zM831 475h2v1h-2zM468 476h3v1h-3zM828 476h3v1h-3zM406 477h3v1h-3zM471 477h2v1h-2zM822 477h3v1h-3zM404 478h2v1h-2zM476 478h2v1h-2zM820 478h2v1h-2zM478 479h3v1h-3zM814 479h3v1h-3zM398 480h3v1h-3zM484 480h5v1h-5zM540 480h5v1h-5zM548 480h5v1h-5zM812 480h2v1h-2zM396 481h2v1h-2zM492 481h5v1h-5zM516 481h5v1h-5zM524 481h5v1h-5zM532 481h5v1h-5zM556 481h5v1h-5zM807 481h2v1h-2zM500 482h5v1h-5zM508 482h5v1h-5zM564 482h4v1h-4zM804 482h3v1h-3zM31 483h2v1h-2zM36 483h5v1h-5zM44 483h5v1h-5zM52 483h5v1h-5zM60 483h5v1h-5zM68 483h5v1h-5zM390 483h3v1h-3zM568 483h1v1h-1zM572 483h1v1h-1zM800 483h1v1h-1zM13 484h4v1h-4zM20 484h5v1h-5zM28 484h3v1h-3zM388 484h2v1h-2zM573 484h4v1h-4zM797 484h3v1h-3zM4 485h5v1h-5zM12 485h1v1h-1zM76 485h2v1h-2zM580 485h3v1h-3zM796 485h1v1h-1zM78 486h2v1h-2zM383 486h2v1h-2zM583 486h2v1h-2zM792 486h1v1h-1zM80 487h1v1h-1zM380 487h3v1h-3zM789 487h3v1h-3zM588 488h2v1h-2zM788 488h1v1h-1zM84 489h2v1h-2zM375 489h2v1h-2zM590 489h3v1h-3zM86 490h2v1h-2zM372 490h3v1h-3zM782 490h3v1h-3zM88 491h1v1h-1zM596 491h1v1h-1zM780 491h2v1h-2zM366 492h3v1h-3zM597 492h2v1h-2zM92 493h1v1h-1zM360 493h1v1h-1zM364 493h2v1h-2zM599 493h2v1h-2zM774 493h3v1h-3zM93 494h2v1h-2zM350 494h3v1h-3zM356 494h4v1h-4zM772 494h2v1h-2zM95 495h2v1h-2zM335 495h2v1h-2zM340 495h5v1h-5zM348 495h2v1h-2zM320 496h1v1h-1zM324 496h5v1h-5zM332 496h3v1h-3zM604 496h2v1h-2zM766 496h3v1h-3zM100 497h1v1h-1zM308 497h5v1h-5zM316 497h4v1h-4zM606 497h2v1h-2zM760 497h1v1h-1zM764 497h2v1h-2zM101 498h1v1h-1zM301 498h4v1h-4zM608 498h1v1h-1zM752 498h1v1h-1zM756 498h4v1h-4zM102 499h1v1h-1zM300 499h1v1h-1zM744 499h1v1h-1zM748 499h4v1h-4zM103 500h2v1h-2zM295 500h2v1h-2zM612 500h1v1h-1zM740 500h4v1h-4zM292 501h3v1h-3zM613 501h2v1h-2zM734 501h3v1h-3zM615 502h2v1h-2zM732 502h2v1h-2zM287 503h2v1h-2zM726 503h3v1h-3zM108 504h2v1h-2zM284 504h3v1h-3zM724 504h2v1h-2zM110 505h1v1h-1zM620 505h2v1h-2zM720 505h1v1h-1zM111 506h1v1h-1zM280 506h1v1h-1zM622 506h1v1h-1zM716 506h4v1h-4zM112 507h1v1h-1zM279 507h1v1h-1zM623 507h2v1h-2zM277 508h2v1h-2zM710 508h3v1h-3zM276 509h1v1h-1zM708 509h2v1h-2zM116 510h1v1h-1zM628 510h2v1h-2zM704 510h1v1h-1zM117 511h2v1h-2zM630 511h2v1h-2zM702 511h2v1h-2zM119 512h1v1h-1zM271 512h2v1h-2zM632 512h1v1h-1zM700 512h2v1h-2zM120 513h1v1h-1zM270 513h1v1h-1zM696 513h1v1h-1zM268 514h2v1h-2zM636 514h2v1h-2zM694 514h2v1h-2zM124 515h1v1h-1zM638 515h2v1h-2zM692 515h2v1h-2zM125 516h1v1h-1zM640 516h1v1h-1zM688 516h1v1h-1zM126 517h2v1h-2zM263 517h2v1h-2zM644 517h1v1h-1zM686 517h2v1h-2zM128 518h1v1h-1zM262 518h1v1h-1zM645 518h3v1h-3zM684 518h2v1h-2zM260 519h2v1h-2zM648 519h1v1h-1zM680 519h1v1h-1zM132 520h1v1h-1zM652 520h4v1h-4zM678 520h2v1h-2zM133 521h1v1h-1zM656 521h1v1h-1zM660 521h3v1h-3zM671 521h2v1h-2zM676 521h2v1h-2zM134 522h2v1h-2zM255 522h2v1h-2zM663 522h2v1h-2zM668 522h3v1h-3zM136 523h1v1h-1zM253 523h2v1h-2zM252 524h1v1h-1zM140 525h2v1h-2zM142 526h2v1h-2zM144 527h1v1h-1zM248 527h1v1h-1zM246 528h2v1h-2zM148 529h2v1h-2zM245 529h1v1h-1zM150 530h2v1h-2zM244 530h1v1h-1zM152 531h1v1h-1zM156 532h1v1h-1zM157 533h4v1h-4zM240 533h1v1h-1zM164 534h1v1h-1zM238 534h2v1h-2zM165 535h4v1h-4zM236 535h2v1h-2zM172 536h1v1h-1zM173 537h3v1h-3zM232 537h1v1h-1zM176 538h1v1h-1zM229 538h3v1h-3zM180 539h1v1h-1zM228 539h1v1h-1zM181 540h3v1h-3zM221 540h4v1h-4zM184 541h1v1h-1zM216 541h1v1h-1zM220 541h1v1h-1zM188 542h5v1h-5zM208 542h1v1h-1zM212 542h4v1h-4zM196 543h5v1h-5zM204 543h4v1h-4z" fill="#FF0000"/>
</svg>
<svg x="4" y="567" width="1192" height="99" viewBox="4 567 1192 99" overflow="hidden">
<g shape-rendering="crispEdges">
<line x1="4" y1="597.5" x2="1196" y2="597.5" stroke="#C0C0C0" stroke-width="1" stroke-dasharray="3 3"/>
<line x1="4" y1="637.5" x2="1196" y2="637.5" stroke="#C0C0C0" stroke-width="1" stroke-dasharray="3 3"/>
</g>
<path d="M858 606h3v1h-3zM854 607h4v1h-4zM861 607h1v1h-1zM852 608h2v1h-2zM862 608h1v1h-1zM851 609h1v1h-1zM863 609h1v1h-1zM850 610h1v1h-1zM864 610h1v1h-1zM849 611h1v1h-1zM865 611h1v1h-1zM371 612h11v1h-11zM848 612h1v1h-1zM866 612h1v1h-1zM369 613h2v1h-2zM382 613h2v1h-2zM848 613h1v1h-1zM867 613h1v1h-1zM347 614h3v1h-3zM367 614h2v1h-2zM384 614h3v1h-3zM740 614h1v1h-1zM808 614h6v1h-6zM847 614h1v1h-1zM868 614h10v1h-10zM931 614h3v1h-3zM344 615h3v1h-3zM350 615h4v1h-4zM365 615h2v1h-2zM387 615h10v1h-10zM427 615h2v1h-2zM674 615h4v1h-4zM739 615h1v1h-1zM741 615h2v1h-2zM778 615h3v1h-3zM804 615h4v1h-4zM814 615h4v1h-4zM824 615h6v1h-6zM846 615h1v1h-1zM878 615h2v1h-2zM915 615h3v1h-3zM929 615h2v1h-2zM934 615h4v1h-4zM11 616h2v1h-2zM342 616h2v1h-2zM354 616h11v1h-11zM397 616h2v1h-2zM424 616h3v1h-3zM429 616h1v1h-1zM670 616h4v1h-4zM678 616h2v1h-2zM738 616h1v1h-1zM743 616h2v1h-2zM774 616h4v1h-4zM781 616h2v1h-2zM802 616h2v1h-2zM818 616h6v1h-6zM830 616h2v1h-2zM845 616h1v1h-1zM880 616h3v1h-3zM913 616h2v1h-2zM918 616h2v1h-2zM927 616h2v1h-2zM938 616h3v1h-3zM8 617h3v1h-3zM13 617h1v1h-1zM340 617h2v1h-2zM399 617h2v1h-2zM422 617h2v1h-2zM429 617h1v1h-1zM490 617h4v1h-4zM506 617h3v1h-3zM668 617h2v1h-2zM680 617h3v1h-3zM737 617h1v1h-1zM745 617h2v1h-2zM752 617h6v1h-6zM770 617h4v1h-4zM783 617h1v1h-1zM800 617h2v1h-2zM832 617h3v1h-3zM840 617h5v1h-5zM883 617h2v1h-2zM911 617h2v1h-2zM920 617h3v1h-3zM925 617h2v1h-2zM6 618h2v1h-2zM14 618h2v1h-2zM266 618h4v1h-4zM339 618h1v1h-1zM401 618h2v1h-2zM418 618h4v1h-4zM430 618h1v1h-1zM486 618h4v1h-4zM494 618h4v1h-4zM502 618h4v1h-4zM509 618h2v1h-2zM667 618h1v1h-1zM683 618h2v1h-2zM736 618h1v1h-1zM747 618h5v1h-5zM758 618h4v1h-4zM766 618h4v1h-4zM784 618h2v1h-2zM799 618h1v1h-1zM835 618h5v1h-5zM885 618h2v1h-2zM909 618h2v1h-2zM923 618h2v1h-2zM4 619h2v1h-2zM16 619h1v1h-1zM196 619h2v1h-2zM219 619h5v1h-5zM262 619h4v1h-4zM270 619h4v1h-4zM339 619h1v1h-1zM403 619h5v1h-5zM414 619h4v1h-4zM430 619h1v1h-1zM460 619h2v1h-2zM483 619h3v1h-3zM498 619h4v1h-4zM511 619h1v1h-1zM667 619h1v1h-1zM685 619h1v1h-1zM735 619h1v1h-1zM762 619h4v1h-4zM786 619h2v1h-2zM797 619h2v1h-2zM887 619h2v1h-2zM904 619h5v1h-5zM17 620h1v1h-1zM26 620h4v1h-4zM194 620h2v1h-2zM198 620h4v1h-4zM216 620h3v1h-3zM224 620h38v1h-38zM274 620h12v1h-12zM338 620h1v1h-1zM408 620h6v1h-6zM431 620h1v1h-1zM459 620h1v1h-1zM462 620h4v1h-4zM480 620h3v1h-3zM512 620h2v1h-2zM522 620h4v1h-4zM666 620h1v1h-1zM686 620h1v1h-1zM734 620h1v1h-1zM788 620h9v1h-9zM889 620h2v1h-2zM896 620h8v1h-8zM18 621h2v1h-2zM22 621h4v1h-4zM30 621h4v1h-4zM192 621h2v1h-2zM202 621h6v1h-6zM214 621h2v1h-2zM286 621h4v1h-4zM337 621h1v1h-1zM432 621h1v1h-1zM458 621h1v1h-1zM466 621h6v1h-6zM478 621h2v1h-2zM514 621h2v1h-2zM518 621h4v1h-4zM526 621h4v1h-4zM665 621h1v1h-1zM687 621h1v1h-1zM733 621h1v1h-1zM891 621h5v1h-5zM20 622h2v1h-2zM34 622h4v1h-4zM191 622h1v1h-1zM208 622h6v1h-6zM290 622h3v1h-3zM336 622h1v1h-1zM432 622h1v1h-1zM458 622h1v1h-1zM472 622h6v1h-6zM516 622h2v1h-2zM530 622h6v1h-6zM664 622h1v1h-1zM688 622h1v1h-1zM731 622h2v1h-2zM38 623h4v1h-4zM189 623h2v1h-2zM293 623h2v1h-2zM336 623h1v1h-1zM433 623h1v1h-1zM457 623h1v1h-1zM536 623h6v1h-6zM664 623h1v1h-1zM689 623h1v1h-1zM729 623h2v1h-2zM42 624h3v1h-3zM188 624h1v1h-1zM295 624h2v1h-2zM335 624h1v1h-1zM434 624h1v1h-1zM456 624h1v1h-1zM542 624h2v1h-2zM663 624h1v1h-1zM690 624h1v1h-1zM727 624h2v1h-2zM45 625h2v1h-2zM187 625h1v1h-1zM297 625h2v1h-2zM334 625h1v1h-1zM434 625h1v1h-1zM455 625h1v1h-1zM544 625h3v1h-3zM662 625h1v1h-1zM691 625h1v1h-1zM725 625h2v1h-2zM47 626h2v1h-2zM140 626h1v1h-1zM187 626h1v1h-1zM299 626h3v1h-3zM314 626h4v1h-4zM333 626h1v1h-1zM435 626h1v1h-1zM454 626h1v1h-1zM547 626h2v1h-2zM650 626h4v1h-4zM661 626h1v1h-1zM692 626h2v1h-2zM722 626h3v1h-3zM49 627h2v1h-2zM139 627h1v1h-1zM141 627h2v1h-2zM186 627h1v1h-1zM302 627h4v1h-4zM310 627h4v1h-4zM318 627h4v1h-4zM333 627h1v1h-1zM435 627h1v1h-1zM454 627h1v1h-1zM549 627h2v1h-2zM646 627h4v1h-4zM654 627h4v1h-4zM661 627h1v1h-1zM694 627h4v1h-4zM718 627h4v1h-4zM51 628h5v1h-5zM139 628h1v1h-1zM143 628h1v1h-1zM186 628h1v1h-1zM306 628h4v1h-4zM322 628h11v1h-11zM436 628h4v1h-4zM453 628h1v1h-1zM551 628h1v1h-1zM642 628h4v1h-4zM658 628h3v1h-3zM698 628h20v1h-20zM56 629h5v1h-5zM138 629h1v1h-1zM144 629h2v1h-2zM185 629h1v1h-1zM440 629h13v1h-13zM552 629h2v1h-2zM638 629h4v1h-4zM61 630h1v1h-1zM138 630h1v1h-1zM146 630h2v1h-2zM184 630h1v1h-1zM554 630h2v1h-2zM636 630h2v1h-2zM62 631h1v1h-1zM137 631h1v1h-1zM148 631h2v1h-2zM184 631h1v1h-1zM556 631h1v1h-1zM635 631h1v1h-1zM62 632h1v1h-1zM137 632h1v1h-1zM150 632h4v1h-4zM183 632h1v1h-1zM557 632h2v1h-2zM634 632h1v1h-1zM63 633h1v1h-1zM136 633h1v1h-1zM154 633h3v1h-3zM182 633h1v1h-1zM559 633h2v1h-2zM632 633h2v1h-2zM64 634h1v1h-1zM116 634h4v1h-4zM135 634h1v1h-1zM157 634h2v1h-2zM182 634h1v1h-1zM561 634h2v1h-2zM584 634h5v1h-5zM631 634h1v1h-1zM65 635h1v1h-1zM115 635h1v1h-1zM120 635h5v1h-5zM135 635h1v1h-1zM159 635h2v1h-2zM181 635h1v1h-1zM563 635h5v1h-5zM576 635h8v1h-8zM589 635h1v1h-1zM630 635h1v1h-1zM66 636h1v1h-1zM115 636h1v1h-1zM125 636h2v1h-2zM134 636h1v1h-1zM161 636h2v1h-2zM181 636h1v1h-1zM568 636h8v1h-8zM590 636h2v1h-2zM629 636h1v1h-1zM66 637h1v1h-1zM114 637h1v1h-1zM127 637h1v1h-1zM134 637h1v1h-1zM163 637h2v1h-2zM180 637h1v1h-1zM592 637h1v1h-1zM612 637h1v1h-1zM627 637h2v1h-2zM67 638h1v1h-1zM114 638h1v1h-1zM128 638h2v1h-2zM133 638h1v1h-1zM165 638h2v1h-2zM178 638h2v1h-2zM593 638h1v1h-1zM611 638h1v1h-1zM613 638h2v1h-2zM625 638h2v1h-2zM68 639h1v1h-1zM113 639h1v1h-1zM130 639h2v1h-2zM133 639h1v1h-1zM167 639h1v1h-1zM176 639h2v1h-2zM594 639h2v1h-2zM610 639h1v1h-1zM615 639h2v1h-2zM623 639h2v1h-2zM69 640h2v1h-2zM113 640h1v1h-1zM132 640h1v1h-1zM168 640h2v1h-2zM175 640h1v1h-1zM596 640h1v1h-1zM609 640h1v1h-1zM617 640h2v1h-2zM621 640h2v1h-2zM71 641h2v1h-2zM112 641h1v1h-1zM170 641h2v1h-2zM173 641h2v1h-2zM597 641h1v1h-1zM608 641h1v1h-1zM619 641h2v1h-2zM73 642h2v1h-2zM111 642h1v1h-1zM172 642h1v1h-1zM598 642h2v1h-2zM608 642h1v1h-1zM75 643h3v1h-3zM111 643h1v1h-1zM600 643h1v1h-1zM607 643h1v1h-1zM78 644h2v1h-2zM110 644h1v1h-1zM601 644h1v1h-1zM606 644h1v1h-1zM80 645h3v1h-3zM110 645h1v1h-1zM602 645h2v1h-2zM605 645h1v1h-1zM83 646h5v1h-5zM109 646h1v1h-1zM604 646h1v1h-1zM88 647h8v1h-8zM109 647h1v1h-1zM96 648h13v1h-13z" fill="#1E90FF"/>
</svg>
<g shape-rendering="crispEdges">
<rect x="1197" y="19" width="2" height="1" fill="#000"/><rect x="1197" y="52" width="2" height="1" fill="#000"/><rect x="1197" y="85" width="2" height="1" fill="#000"/><rect x="1197" y="118" width="2" height="1" fill="#000"/><rect x="1197" y="151" width="2" height="1" fill="#000"/><rect x="1197" y="184" width="2" height="1" fill="#000"/><rect x="1197" y="217" width="2" height="1" fill="#000"/><rect x="1197" y="250" width="2" height="1" fill="#000"/><rect x="1197" y="283" width="2" height="1" fill="#000"/><rect x="1197" y="316" width="2" height="1" fill="#000"/><rect x="1197" y="349" width="2" height="1" fill="#000"/><rect x="1197" y="382" width="2" height="1" fill="#000"/><rect x="1197" y="415" width="2" height="1" fill="#000"/><rect x="1197" y="448" width="2" height="1" fill="#000"/><rect x="1197" y="455" width="2" height="1" fill="#000"/><rect x="1197" y="469" width="2" height="1" fill="#000"/><rect x="1197" y="563" width="2" height="1" fill="#000"/><rect x="1197" y="568" width="2" height="1" fill="#000"/><rect x="4" y="667" width="1" height="3" fill="#000"/><rect x="68" y="667" width="1" height="3" fill="#000"/><rect x="132" y="667" width="1" height="3" fill="#000"/><rect x="196" y="667" width="1" height="3" fill="#000"/><rect x="260" y="667" width="1" height="3" fill="#000"/><rect x="324" y="667" width="1" height="3" fill="#000"/><rect x="388" y="667" width="1" height="3" fill="#000"/><rect x="452" y="667" width="1" height="3" fill="#000"/><rect x="516" y="667" width="1" height="3" fill="#000"/><rect x="580" y="667" width="1" height="3" fill="#000"/><rect x="644" y="667" width="1" height="3" fill="#000"/><rect x="708" y="667" width="1" height="3" fill="#000"/><rect x="772" y="667" width="1" height="3" fill="#000"/><rect x="836" y="667" width="1" height="3" fill="#000"/><rect x="900" y="667" width="1" height="3" fill="#000"/><rect x="1199" y="169" width="34" height="11" fill="#FF0000"/><rect x="1199" y="242" width="34" height="11" fill="#FF0000"/><rect x="1199" y="332" width="34" height="10" fill="#000"/><rect x="1199" y="342" width="34" height="11" fill="#00C800"/><rect x="1199" y="429" width="34" height="11" fill="#4169E1"/></g>
<polygon points="7,11 14,11 10.5,14.5" fill="#000"/><text transform="translate(1202,23) scale(0.93,1)">4635.0</text><text transform="translate(1202,56) scale(0.93,1)">4567.0</text><text transform="translate(1202,89) scale(0.93,1)">4499.0</text><text transform="translate(1202,122) scale(0.93,1)">4431.0</text><text transform="translate(1202,155) scale(0.93,1)">4365.0</text><text transform="translate(1202,188) scale(0.93,1)">4297.0</text><text transform="translate(1202,221) scale(0.93,1)">4229.0</text><text transform="translate(1202,287) scale(0.93,1)">4093.0</text><text transform="translate(1202,320) scale(0.93,1)">4025.0</text><text transform="translate(1202,386) scale(0.93,1)">3889.0</text><text transform="translate(1202,419) scale(0.93,1)">3821.0</text><text transform="translate(1202,452) scale(0.93,1)">3755.0</text><text transform="translate(1202,251) scale(0.93,1)" >4161.0</text><rect x="1199" y="169" width="34" height="11" fill="#FF0000" shape-rendering="crispEdges"/><rect x="1199" y="242" width="34" height="11" fill="#FF0000" shape-rendering="crispEdges"/><text transform="translate(1202,178) scale(0.93,1)" style="fill:#fff;stroke:#fff">4315.0</text><text transform="translate(1202,251) scale(0.93,1)" style="fill:#fff;stroke:#fff">4165.0</text><text transform="translate(1202,341) scale(0.93,1)" style="fill:#fff;stroke:#fff">3981.7</text><text transform="translate(1202,352) scale(0.93,1)" style="fill:#fff;stroke:#fff">3960.0</text><text transform="translate(1202,438) scale(0.93,1)" style="fill:#fff;stroke:#fff">3780.0</text><text transform="translate(1199,464) scale(0.93,1)">21.05</text><text transform="translate(1200,473) scale(0.93,1)">0.00</text><text transform="translate(1199,561) scale(0.93,1)">-141.12</text><text transform="translate(1200,577) scale(0.93,1)">100</text><text transform="translate(1198,601) scale(0.93,1)">70</text><text transform="translate(1198,641) scale(0.93,1)">30</text><text transform="translate(1199,665) scale(0.93,1)">0</text><text transform="translate(7,466) scale(0.93,1)" textLength="72" lengthAdjust="spacingAndGlyphs">MACD(12,26,9)</text><text transform="translate(76,466) scale(0.93,1)">3.67 5.26</text><text transform="translate(7,579) scale(0.93,1)">RSI(14) 50.6759</text><text transform="translate(3,680) scale(0.93,1)">1 Mar 2022</text><text transform="translate(67,680) scale(0.93,1)">7 Mar 01:30</text><text transform="translate(131,680) scale(0.93,1)">11 Mar 01:30</text><text transform="translate(195,680) scale(0.93,1)">17 Mar 01:30</text><text transform="translate(259,680) scale(0.93,1)">23 Mar 01:30</text><text transform="translate(323,680) scale(0.93,1)">29 Mar 01:30</text><text transform="translate(387,680) scale(0.93,1)">6 Apr 01:30</text><text transform="translate(451,680) scale(0.93,1)">12 Apr 01:30</text><text transform="translate(515,680) scale(0.93,1)">18 Apr 01:30</text><text transform="translate(579,680) scale(0.93,1)">22 Apr 01:30</text><text transform="translate(643,680) scale(0.93,1)">28 Apr 01:30</text><text transform="translate(707,680) scale(0.93,1)">9 May 01:30</text><text transform="translate(771,680) scale(0.93,1)">13 May 01:30</text><text transform="translate(835,680) scale(0.93,1)">19 May 01:30</text><text transform="translate(899,680) scale(0.93,1)">25 May 01:30</text>
</svg>
</body></html>
